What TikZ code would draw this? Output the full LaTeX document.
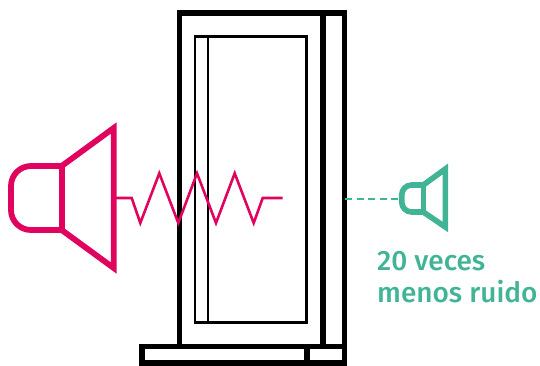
\documentclass[tikz,border=0pt]{standalone}
\usepackage{fontspec}
\setmainfont{Fira Sans Medium}
\definecolor{pinkc}{HTML}{E0045F}
\definecolor{greenc}{HTML}{41B496}
\tikzset{
  thick frame/.style={draw=black,line width=5.6pt,line join=miter},
  thin frame/.style={draw=black,line width=2.7pt,line join=miter},
  pink line/.style={draw=pinkc,line width=5.8pt,line join=miter},
  pink wave/.style={draw=pinkc,line width=2.6pt,line join=miter},
  green line/.style={draw=greenc,line width=5.6pt,line join=miter},
  green dash/.style={draw=greenc,line width=2.6pt,dash pattern=on 7pt off 4.5pt},
  label text/.style={text=greenc,font=\fontsize{28pt}{32pt}\selectfont,anchor=base west,inner sep=0pt}
}
\begin{document}
\begin{tikzpicture}[x=1pt,y=-1pt]
\useasboundingbox (0,0) rectangle (540,365);
% window
\draw[thin frame] (195,36.5) rectangle (306.5,322.5);
\draw[thin frame] (208,36.5) -- (208,322.5);
\draw[thick frame] (179.5,346) -- (179.5,13) -- (344.5,13) -- (344.5,346);
\draw[thick frame] (322.7,13) -- (322.7,346);
\draw[thick frame] (142,346.3) rectangle (344.5,363);
\draw[thick frame] (307,346) -- (307,363);
% loud speaker
\draw[pink line,rounded corners=20pt] (61.7,166) -- (11,166) -- (11,230) -- (61.7,230);
\draw[pink line] (61.7,166) -- (61.7,230);
\draw[pink line] (61.7,166) -- (113.7,128) -- (113.7,268) -- (61.7,230);
% wave
\coordinate (wavestart) at (116,198);
\coordinate (waveend) at (282.7,198);
\draw[pink wave] (wavestart) -- (131.7,198) -- (140.3,223) -- (159.3,173.3) -- (178.3,223) -- (197,173.3) -- (216,223) -- (234.7,173.3) -- (253.7,223) -- (262.7,198) -- (waveend);
% quiet speaker
\draw[green line,rounded corners=10pt] (423.3,185) -- (401.7,185) -- (401.7,212) -- (423.3,212);
\draw[green line] (423.3,185) -- (423.3,212);
\draw[green line] (423.3,185) -- (445.3,169) -- (445.3,227) -- (423.3,212);
\coordinate (dashstart) at (345,199);
\coordinate (dashend) at (398,199);
\draw[green dash] (dashstart) -- (dashend);
% label
\node[label text] (l1) at (377,270.7) {20 veces};
\node[label text] (l2) at (377,302.7) {menos ruido};
\end{tikzpicture}
\end{document}
